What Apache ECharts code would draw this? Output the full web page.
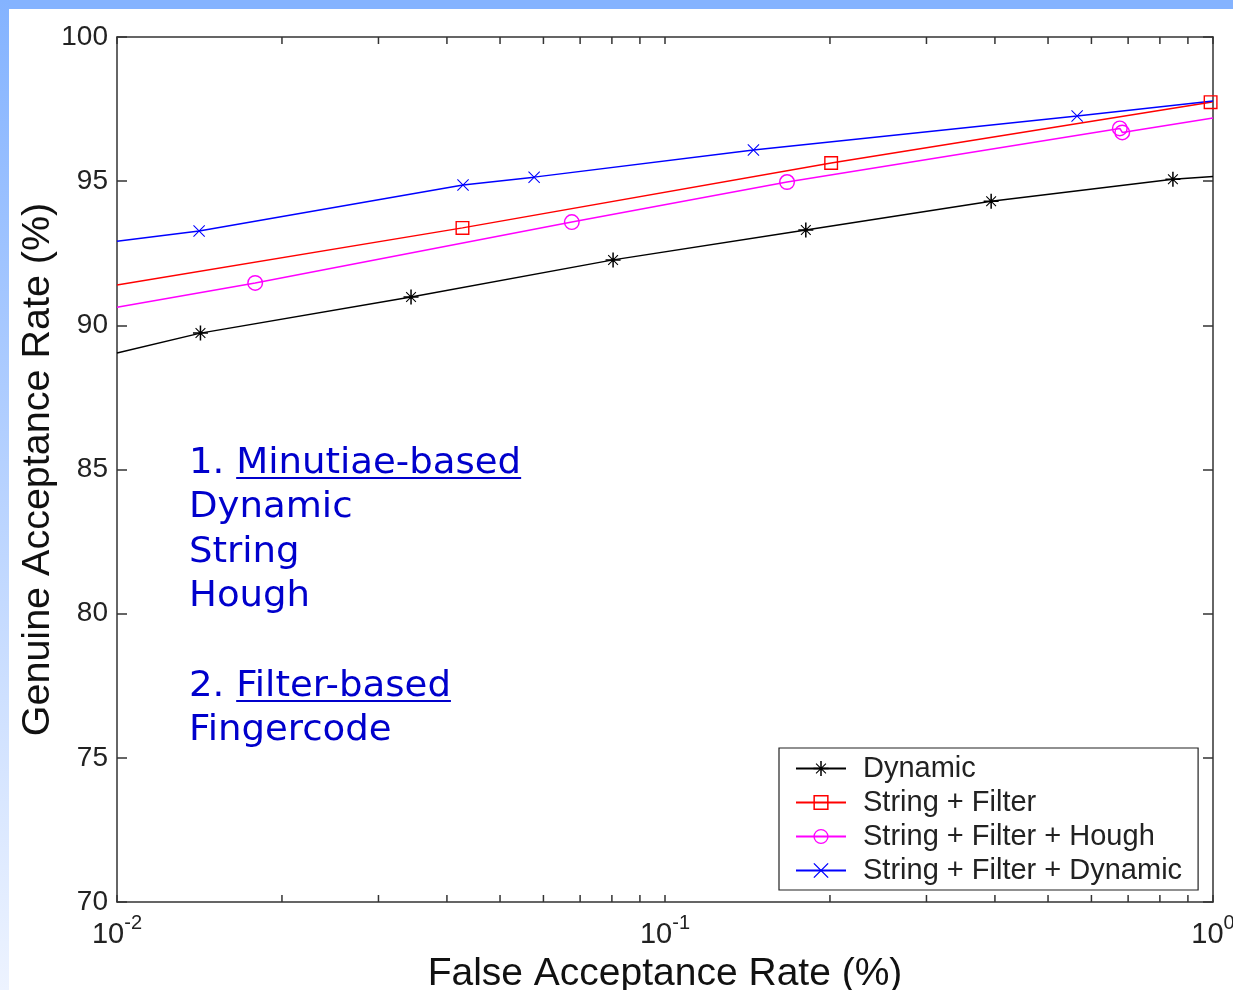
<!DOCTYPE html>
<html>
<head>
<meta charset="utf-8">
<script src="https://cdn.jsdelivr.net/npm/echarts@6/dist/echarts.min.js"></script>
<style>
  html, body { margin: 0; padding: 0; background: #fff; }
  #chart { width: 1233px; height: 990px; }
</style>
</head>
<body>
<div id="chart"></div>
<script>
// ROC curves: genuine acceptance rate vs false acceptance rate (log scale)
const dynamicFar = [0.01, 0.0142, 0.0344, 0.0804, 0.1807, 0.3937, 0.845, 1.0];
const dynamicGar = [89.04, 89.73, 90.98, 92.27, 93.31, 94.30, 95.07, 95.16];
const dynamicMark = [0, 1, 1, 1, 1, 1, 1, 0];

const sfFar = [0.01, 0.0427, 0.201, 0.99, 1.0];
const sfGar = [91.40, 93.38, 95.63, 97.74, 97.76];
const sfMark = [0, 1, 1, 1, 0];

const sfhFar = [0.01, 0.01787, 0.0676, 0.167, 0.676, 0.683, 1.0];
const sfhGar = [90.63, 91.47, 93.58, 94.97, 96.83, 96.69, 97.19];
const sfhMark = [0, 1, 1, 1, 1, 1, 0];

const sfdFar = [0.01, 0.01412, 0.0428, 0.0577, 0.145, 0.565, 1.0];
const sfdGar = [92.92, 93.27, 94.87, 95.14, 96.08, 97.26, 97.78];
const sfdMark = [0, 1, 1, 1, 1, 1, 0];

const seriesNames = ['Dynamic', 'String + Filter', 'String + Filter + Hough', 'String + Filter + Dynamic'];

const xMin = 0.01, xMax = 1;
const yMin = 70, yMax = 100, yStep = 5;
const xMinorTicks = [0.02, 0.03, 0.04, 0.05, 0.06, 0.07, 0.08, 0.09,
                     0.2, 0.3, 0.4, 0.5, 0.6, 0.7, 0.8, 0.9];

const annotationLines = ['1. Minutiae-based', 'Dynamic', 'String', 'Hough', '', '2. Filter-based', 'Fingercode'];
const underlined = [{ line: 0, prefix: '1. ', word: 'Minutiae-based' }, { line: 5, prefix: '2. ', word: 'Filter-based' }];

// marker shapes (filled outlines so the curve shows through)
const STAR = 'path://M0,9 L20,9 L20,11 L0,11 Z M9,0 L11,0 L11,20 L9,20 Z M3,4 L4,3 L17,16 L16,17 Z M16,3 L17,4 L4,17 L3,16 Z';
const CROSS = 'path://M2,3 L3,2 L18,17 L17,18 Z M17,2 L18,3 L3,18 L2,17 Z';
const SQUARE = 'path://M0,0 L20,0 L20,20 L0,20 Z M2,2 L2,18 L18,18 L18,2 Z';
const RING = 'path://M0,10 A10,10 0 1,1 20,10 A10,10 0 1,1 0,10 Z M1.8,10 A8.2,8.2 0 1,0 18.2,10 A8.2,8.2 0 1,0 1.8,10 Z';

const FONT = 'Liberation Sans';
const ANNOT_FONT_SIZE = 36;
const ANNOT_SCALE_X = 1.03;
const ANNOT_LINE_H = 44.6;
const ANNOT_X = 189, ANNOT_Y = 441;

function curve(name, color, symbol, size, far, gar, mark) {
  return {
    name: name,
    type: 'line',
    symbol: symbol,
    symbolSize: size,
    showSymbol: true,
    clip: false,
    animation: false,
    lineStyle: { color: color, width: 1.5 },
    itemStyle: { color: color, borderWidth: 0 },
    emphasis: { disabled: true },
    data: far.map(function (x, i) {
      return mark[i] ? [x, gar[i]] : { value: [x, gar[i]], symbol: 'none' };
    })
  };
}

const chart = echarts.init(document.getElementById('chart'), null, { renderer: 'canvas' });

// underline positions for the annotation headings
const measure = document.createElement('canvas').getContext('2d');
measure.font = ANNOT_FONT_SIZE + 'px "DejaVu Sans"';
const underlineShapes = underlined.map(function (u) {
  const x0 = ANNOT_X + measure.measureText(u.prefix).width * ANNOT_SCALE_X;
  const w = measure.measureText(u.word).width * ANNOT_SCALE_X;
  const y = ANNOT_Y + ANNOT_LINE_H * u.line + 37;
  return {
    type: 'line', silent: true, z: 20,
    shape: { x1: x0, y1: y, x2: x0 + w, y2: y },
    style: { stroke: '#0000cc', lineWidth: 2 }
  };
});

const axisLineStyle = { color: '#333', width: 1.5 };

const option = {
  backgroundColor: '#fff',
  animation: false,
  grid: { left: 117, top: 37, right: 20, bottom: 88, containLabel: false, outerBoundsMode: 'none' },
  xAxis: [{
    type: 'log', logBase: 10, min: xMin, max: xMax,
    name: 'False Acceptance Rate (%)', nameLocation: 'middle', nameGap: 52,
    nameTextStyle: { fontFamily: FONT, fontSize: 39, color: '#111' },
    axisLine: { show: true, lineStyle: axisLineStyle },
    axisTick: { show: true, inside: true, length: 7, lineStyle: axisLineStyle },
    splitLine: { show: false },
    axisLabel: {
      margin: 11,
      formatter: function (v) {
        const e = Math.round(Math.log10(v));
        return '{b|10}{s|' + (e < 0 ? '-' : '') + Math.abs(e) + '}';
      },
      rich: {
        b: { fontFamily: FONT, fontSize: 29, color: '#222', lineHeight: 44 },
        s: { fontFamily: FONT, fontSize: 20, color: '#222', verticalAlign: 'top', lineHeight: 20 }
      }
    }
  }, {
    type: 'log', logBase: 10, min: xMin, max: xMax, position: 'top',
    axisLine: { show: true, lineStyle: axisLineStyle },
    axisTick: { show: true, inside: true, length: 7, lineStyle: axisLineStyle },
    axisLabel: { show: false },
    splitLine: { show: false }
  }],
  yAxis: [{
    type: 'value', min: yMin, max: yMax, interval: yStep,
    name: 'Genuine Acceptance Rate (%)', nameLocation: 'middle', nameGap: 59, nameRotate: 90,
    nameMoveOverlap: false,
    nameTextStyle: { fontFamily: FONT, fontSize: 39.5, color: '#111' },
    axisLine: { show: true, lineStyle: axisLineStyle },
    axisTick: { show: true, inside: true, length: 10, lineStyle: axisLineStyle },
    splitLine: { show: false },
    axisLabel: { margin: 9, fontFamily: FONT, fontSize: 28, color: '#222' }
  }, {
    type: 'value', min: yMin, max: yMax, interval: yStep, position: 'right',
    axisLine: { show: true, lineStyle: axisLineStyle },
    axisTick: { show: true, inside: true, length: 10, lineStyle: axisLineStyle },
    axisLabel: { show: false },
    splitLine: { show: false }
  }],
  legend: {
    data: seriesNames,
    orient: 'vertical',
    left: 779, top: 748,
    padding: [6, 16, 5, 16],
    itemWidth: 50, itemHeight: 19, itemGap: 5,
    backgroundColor: '#fff',
    borderColor: '#222', borderWidth: 1.2, borderRadius: 0,
    selectedMode: false,
    textStyle: { fontFamily: FONT, fontSize: 29, color: '#222', lineHeight: 29, padding: [0, 0, 0, 12] }
  },
  graphic: [
    { type: 'rect', silent: true, z: -10, shape: { x: 0, y: 0, width: 1233, height: 9 }, style: { fill: '#84b3ff' } },
    { type: 'rect', silent: true, z: -10, shape: { x: 0, y: 0, width: 9, height: 990 },
      style: { fill: new echarts.graphic.LinearGradient(0, 0, 0, 1, [
        { offset: 0, color: '#84b3ff' }, { offset: 1, color: '#edf3ff' }]) } },
    { type: 'text', silent: true, z: 20, x: ANNOT_X, y: ANNOT_Y, scaleX: ANNOT_SCALE_X,
      style: { text: annotationLines.join('\n'), fill: '#0000cc',
               font: ANNOT_FONT_SIZE + 'px "DejaVu Sans"', lineHeight: ANNOT_LINE_H } }
  ].concat(underlineShapes),
  series: [
    curve(seriesNames[0], '#000000', STAR, 15, dynamicFar, dynamicGar, dynamicMark),
    curve(seriesNames[1], '#ff0000', SQUARE, 14, sfFar, sfGar, sfMark),
    curve(seriesNames[2], '#ff00ff', RING, 16, sfhFar, sfhGar, sfhMark),
    curve(seriesNames[3], '#0000ff', CROSS, 12, sfdFar, sfdGar, sfdMark),
    {
      // minor log ticks on the bottom and top edges of the frame
      type: 'custom', silent: true, animation: false, clip: false, z: 5,
      data: xMinorTicks.map(function (v) { return [v, yMin]; }),
      renderItem: function (params, api) {
        const v = api.value(0);
        const b = api.coord([v, yMin]);
        const t = api.coord([v, yMax]);
        const st = { stroke: '#333', lineWidth: 1.5 };
        return {
          type: 'group',
          children: [
            { type: 'line', shape: { x1: b[0], y1: b[1], x2: b[0], y2: b[1] - 7 }, style: st },
            { type: 'line', shape: { x1: t[0], y1: t[1], x2: t[0], y2: t[1] + 7 }, style: st }
          ]
        };
      }
    }
  ]
};

chart.setOption(option);
</script>
</body>
</html>
